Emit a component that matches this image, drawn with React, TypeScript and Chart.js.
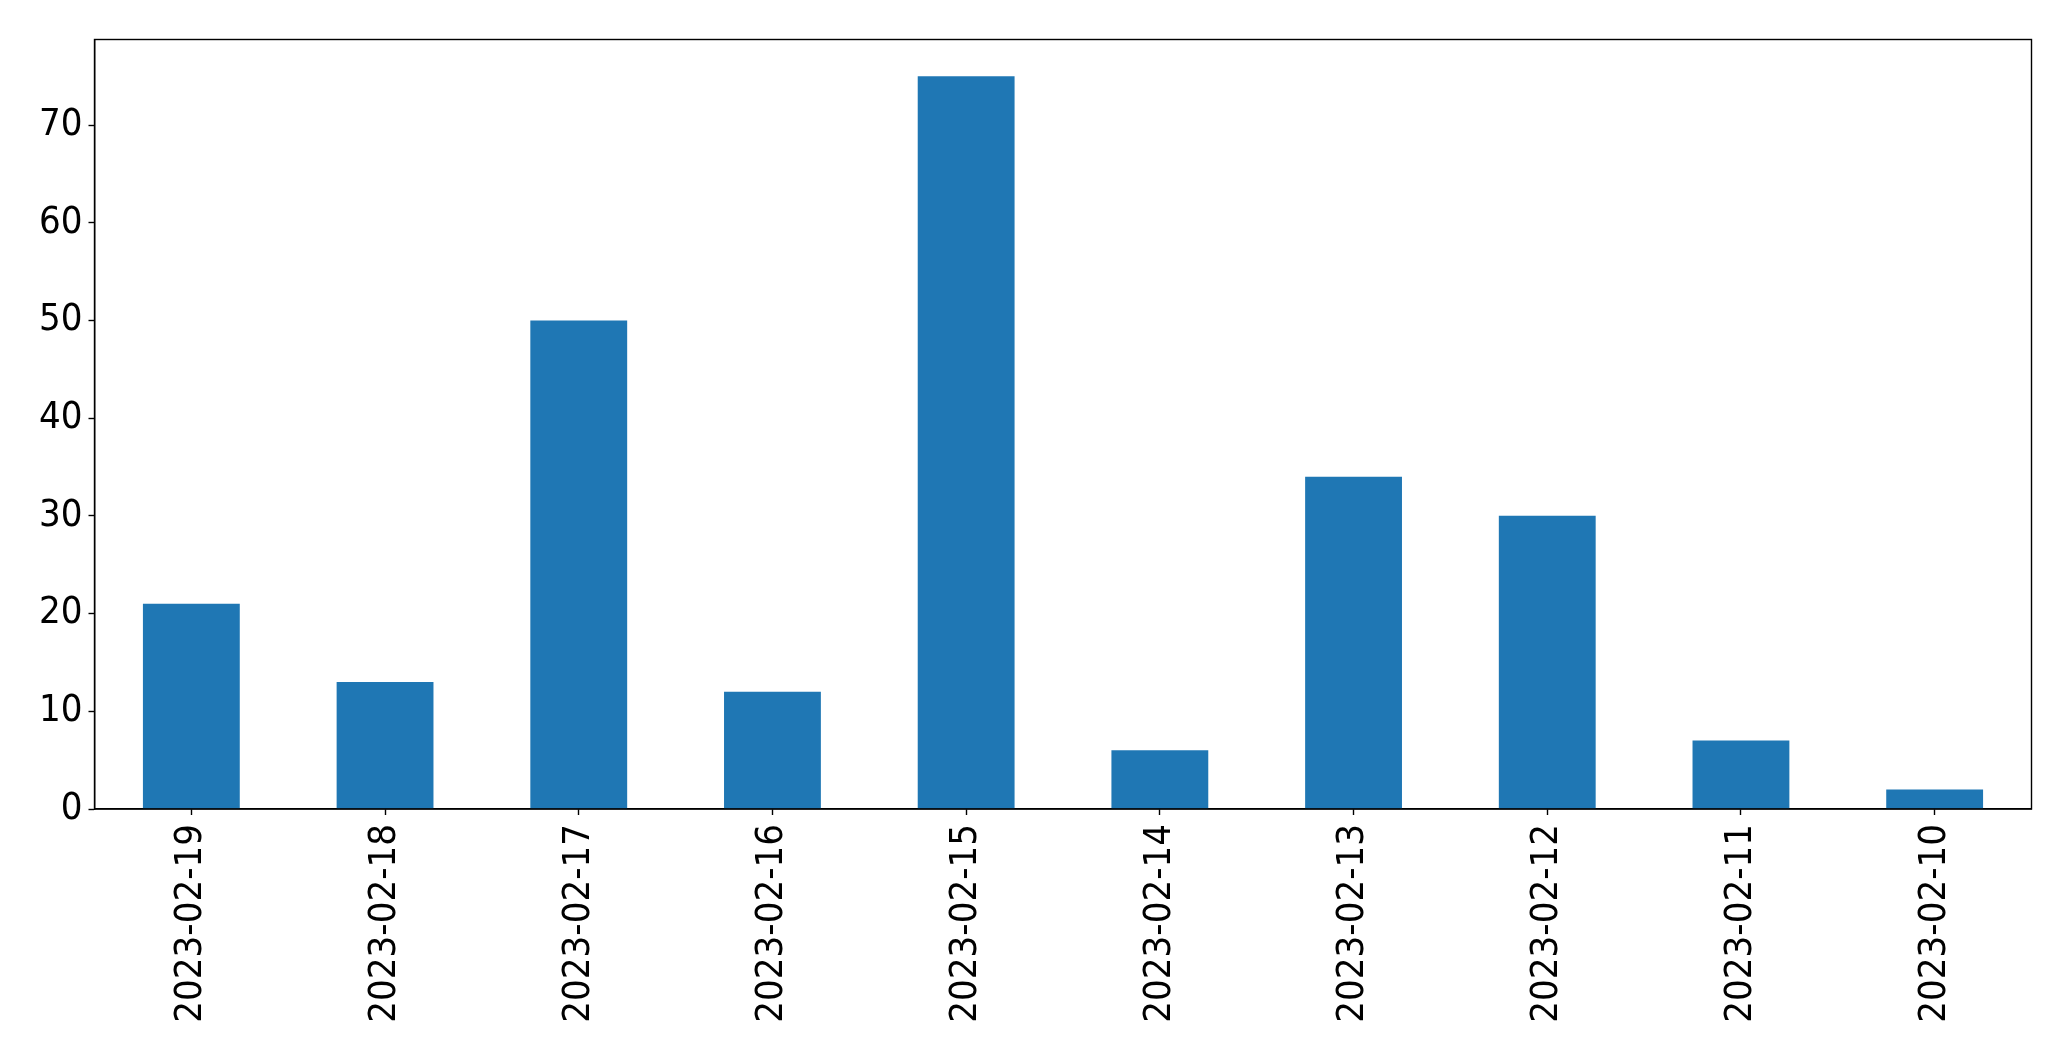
import React, { useEffect, useRef } from "react";
import { Chart, registerables } from "chart.js";

Chart.register(...registerables);

const categories = [
  "2023-02-19", "2023-02-18", "2023-02-17", "2023-02-16", "2023-02-15",
  "2023-02-14", "2023-02-13", "2023-02-12", "2023-02-11", "2023-02-10",
];
const values = [21, 13, 50, 12, 75, 6, 34, 30, 7, 2];
const yTicks = [0, 10, 20, 30, 40, 50, 60, 70];
const yMax = 78.75;

const W = 2071;
const H = 1061;

const frame = {
  id: "frame",
  afterDraw(chart: any) {
    const { ctx, chartArea } = chart;
    ctx.save();
    ctx.strokeStyle = "#000";
    ctx.lineWidth = 1.4;
    ctx.strokeRect(chartArea.left, chartArea.top, chartArea.right - chartArea.left, chartArea.bottom - chartArea.top);
    ctx.restore();
  },
};

export default function App() {
  const ref = useRef<HTMLCanvasElement | null>(null);
  useEffect(() => {
    document.body.style.margin = "0";
    const font = { family: "'DejaVu Sans Condensed', 'DejaVu Sans', sans-serif", size: 38 };
    const chart = new Chart(ref.current as HTMLCanvasElement, {
      type: "bar",
      data: {
        labels: categories,
        datasets: [
          {
            data: values,
            backgroundColor: "#1f77b4",
            barPercentage: 0.5,
            categoryPercentage: 1,
          },
        ],
      },
      options: {
        animation: false,
        responsive: false,
        devicePixelRatio: 1,
        layout: { padding: { left: 0, top: 39.5, right: 39.5, bottom: 0 } },
        plugins: { legend: { display: false }, tooltip: { enabled: false } },
        scales: {
          x: {
            offset: true,
            grid: { display: true, offset: false, drawOnChartArea: false, drawTicks: true, tickLength: 6, color: "#000", tickWidth: 1.4 } as any,
            border: { display: true, color: "#000", width: 1.4 },
            ticks: { color: "#000", font, maxRotation: 90, minRotation: 90, padding: 9, autoSkip: false },
            afterFit: (s: any) => { s.height = H - 809; },
          },
          y: {
            min: 0,
            max: yMax,
            grid: { display: true, drawOnChartArea: false, drawTicks: true, tickLength: 6, color: "#000", tickWidth: 1.4 } as any,
            border: { display: true, color: "#000", width: 1.4 },
            ticks: { color: "#000", font, padding: 6 },
            afterBuildTicks: (s: any) => { s.ticks = yTicks.map((v) => ({ value: v })); },
            afterFit: (s: any) => { s.width = 94.5; },
          },
        },
      },
      plugins: [frame],
    });
    return () => chart.destroy();
  }, []);
  return (
    <div style={{ position: "fixed", left: 0, top: 0, width: W, height: H, background: "#fff" }}>
      <canvas ref={ref} width={W} height={H} style={{ width: W, height: H, display: "block" }} />
    </div>
  );
}
